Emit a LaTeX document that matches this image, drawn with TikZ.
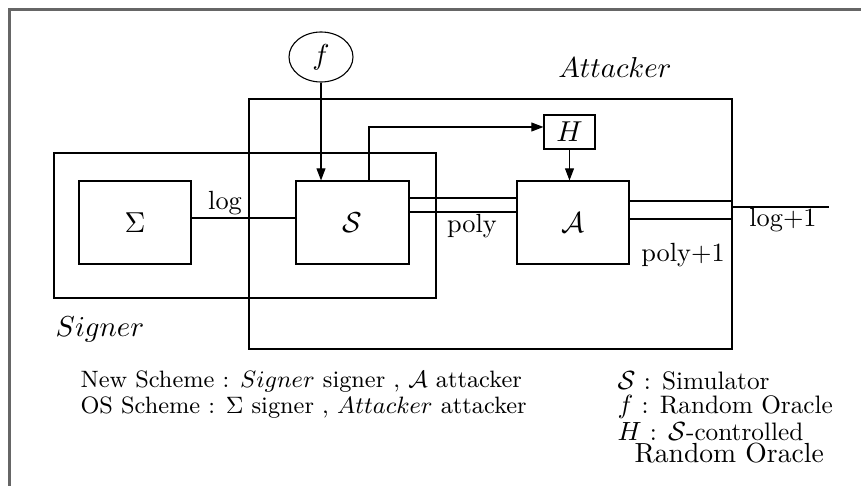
\documentclass[tikz,border=0pt]{standalone}
\usetikzlibrary{arrows.meta,shapes.geometric}
\begin{document}
\begin{tikzpicture}[x=0.38pt,y=-0.38pt,
  box/.style={draw,line width=0.42pt,inner sep=0pt,font=\fontsize{10.6}{12}\selectfont},
  lab/.style={inner sep=0pt,font=\fontsize{10}{12}\selectfont},
  ar/.style={-{Triangle[length=4.6pt,width=3.4pt]}},
  ln/.style={line width=0.42pt},
  legl/.style={anchor=base west,inner sep=0pt,font=\fontsize{9}{11}\selectfont},
  legr/.style={anchor=base west,inner sep=0pt,font=\fontsize{9.6}{11}\selectfont}]
\useasboundingbox (0,0) rectangle (861,486);
% outer frame (top and left only)
\draw[gray!80!black, line width=0.8pt] (9.5,486) -- (9.5,9.5) -- (861,9.5);
% big boxes
\node[box, minimum width=483*0.38pt, minimum height=250*0.38pt] (att) at (490.5,224) {};
\node[box, minimum width=382*0.38pt, minimum height=145*0.38pt] (sig) at (245,225.5) {};
% inner boxes
\node[box, minimum width=112*0.38pt, minimum height=83*0.38pt] (sigma) at (135,222.5) {$\Sigma$};
\node[box, minimum width=113*0.38pt, minimum height=83*0.38pt] (sim) at (352.5,222.5) {$\mathcal{S}$};
\node[box, minimum width=112*0.38pt, minimum height=83*0.38pt] (adv) at (573,222.5) {$\mathcal{A}$};
\node[box, minimum width=51*0.38pt, minimum height=34*0.38pt] (H) at (569.5,132) {$H$};
\node[box, ellipse, minimum width=64*0.38pt, minimum height=50*0.38pt] (f) at (321,57) {$f$};
% connectors
\draw[ln,ar] (f.south) -- (f.south |- sim.north);
\draw[ln,ar] ([xshift=16.5*0.38pt]sim.north) |- ([yshift=5*0.38pt]H.west);
\draw[ln,ar] (H.south) -- (H.south |- adv.north);
\draw[ln] ([yshift=4.5*0.38pt]sigma.east) -- ([yshift=4.5*0.38pt]sim.west);
\draw[ln] ([yshift=24.5*0.38pt]sim.east) -- ([yshift=24.5*0.38pt]adv.west);
\draw[ln] ([yshift=10.5*0.38pt]sim.east) -- ([yshift=10.5*0.38pt]adv.west);
\draw[ln] ([yshift=21.5*0.38pt]adv.east) -- ([yshift=21.5*0.38pt]adv.east -| att.east);
\draw[ln] ([yshift=3.5*0.38pt]adv.east) -- ([yshift=3.5*0.38pt]adv.east -| att.east);
\coordinate (out) at (829,207);
\draw[ln] (att.east |- out) -- (out);
% labels
\node[lab] (loglab) at (225,203) {log};
\node[lab] (polylab) at (472,226) {poly};
\node[lab] (poly1lab) at (683,255) {poly+1};
\node[lab] (log1lab) at (783,220) {log+1};
\node[inner sep=0pt,font=\fontsize{11}{13}\selectfont] (siglab) at (100,329) {$Signer$};
\node[inner sep=0pt,font=\fontsize{10.5}{12}\selectfont] (attlab) at (615,67) {$Attacker$};
% legend
\node[legl] (leg1) at (80,387) {New Scheme : $Signer$ signer , $\mathcal{A}$ attacker};
\node[legl] (leg2) at (80,413) {OS Scheme : $\Sigma$ signer , $Attacker$ attacker};
\node[legr] (leg3) at (617,389) {$\mathcal{S}$ : Simulator};
\node[legr] (leg4) at (617,413) {$f$ : Random Oracle};
\node[legr] (leg5) at (617,440) {$H$ : $\mathcal{S}$-controlled};
\node[legr,font=\fontsize{10.5}{12}\selectfont] (leg6) at (634,462) {Random Oracle};
\end{tikzpicture}
\end{document}
